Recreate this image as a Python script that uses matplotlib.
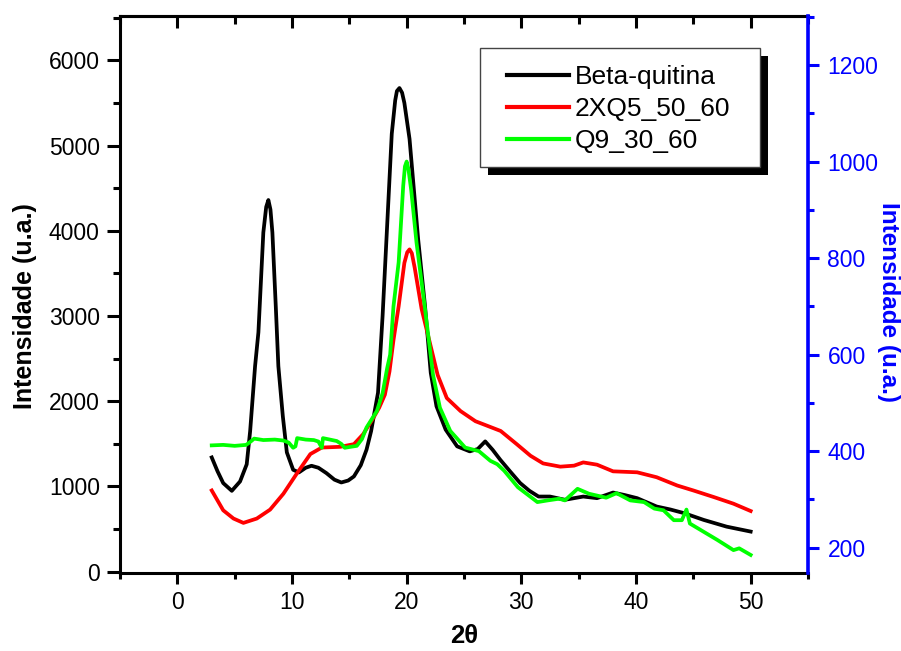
import os
import matplotlib
matplotlib.use('Agg')
import matplotlib.pyplot as plt
from matplotlib.patches import Rectangle
from matplotlib.ticker import MultipleLocator
from matplotlib import font_manager as fm

plt.rcParams['font.family'] = ['Liberation Sans', 'DejaVu Sans']

# ---- data ----
beta_x = [3.0, 3.5, 4.0, 4.75, 5.47, 6.05, 6.35, 6.78, 7.07, 7.5, 7.75, 7.94, 8.12, 8.29, 8.59, 8.81, 9.2, 9.55,
          10.1, 10.6, 11.2, 11.7, 12.3, 13.0, 13.7, 14.3, 14.9, 15.4, 16.0, 16.5, 16.9, 17.5, 17.9,
          18.2, 18.7, 19.0, 19.15, 19.37, 19.6, 19.8, 20.25, 21.0, 21.6, 22.1, 22.6, 23.4, 24.4, 25.5, 26.2,
          26.85, 27.5, 28.16, 29.0, 29.9, 30.7, 31.5, 32.5, 33.8, 35.4, 36.6, 38.0, 39.0, 40.1,
          41.8, 43.0, 44.2, 45.9, 47.9, 50.0]
beta_y = [1341, 1180, 1040, 949, 1059, 1260, 1650, 2412, 2808, 3980, 4280, 4361, 4250, 3980, 3100, 2412, 1824, 1400,
          1196, 1165, 1220, 1243, 1220, 1157, 1080, 1047, 1070, 1118, 1250, 1432, 1650, 2100, 3000,
          3800, 5137, 5530, 5640, 5675, 5620, 5500, 5078, 3903, 3118, 2334, 1941, 1667, 1471, 1412, 1440,
          1529, 1430, 1314, 1180, 1040, 950, 882, 882, 844, 882, 863, 929, 900, 863,
          765, 730, 687, 608, 529, 471]

q5_x = [3.0, 4.0, 4.9, 5.76, 6.93, 8.09, 9.25, 10.4, 11.6, 12.6, 14.2, 15.4, 16.2, 17.1, 17.6, 18.1,
        18.5, 18.85, 19.3, 19.8, 20.05, 20.25, 20.45, 20.7, 21.3, 22.0, 22.7, 23.5, 24.7, 26.0, 26.7, 28.2, 29.6,
        30.8, 31.9, 33.4, 34.6, 35.4, 36.6, 38.0, 40.1, 41.8, 43.6, 45.0, 46.8, 48.5, 50.0]
q5_y = [318.6, 277.5, 260.4, 251.4, 260.4, 278.9, 311.8, 352.9, 394, 407.5, 409, 414.5, 435, 469, 490, 517,
        565, 630, 700, 790, 812, 818, 810, 780, 695, 626.7, 558, 510, 483, 462, 455.6, 441.8, 414.5,
        390.5, 374.6, 367.9, 370, 376.7, 372, 358.2, 356.2, 346, 328.8, 318.6, 304.8, 291.2, 276]

q9_x = [3.0, 4.0, 5.0, 6.0, 6.4, 6.7, 7.5, 8.5, 9.25, 9.7, 10.1, 10.3, 10.45, 11.2, 11.9, 12.3, 12.6,
        12.7, 13.3, 13.9, 14.3, 14.6, 15.1, 15.65, 16.1, 16.5, 17.0, 17.4, 17.9, 18.3, 18.56, 18.85,
        19.3, 19.7, 19.85, 20.0, 20.15, 20.4, 20.86, 21.6, 22.3, 22.9, 23.8, 25.1, 26.3, 27.3, 27.9, 28.5, 29.7,
        31.4, 32.3, 33.3, 33.8, 34.9, 35.9, 37.4, 38.3, 39.5, 40.7, 41.6, 42.4, 43.3, 44.0, 44.4,
        44.7, 45.9, 47.1, 48.5, 49.0, 50.0]
q9_y = [412, 413, 411, 413, 420, 426, 423, 424, 422, 418, 407, 410, 427, 424, 423, 420, 407,
        427, 424, 421, 415, 407, 409, 411, 425, 449, 468, 483, 520, 572, 600, 700,
        791, 950, 990, 1000, 985, 940, 832, 695, 558, 490, 442, 407.5, 400, 380, 373, 359.6, 325.3,
        294.5, 298, 301.5, 298, 322, 311.8, 303.6, 313, 298, 294.5, 281, 277.5, 257, 257, 279,
        250, 233, 216, 195, 198.7, 185]

labels = ['Beta-quitina', '2XQ5_50_60', 'Q9_30_60']
colors = ['#000000', '#ff0000', '#00ff00']

# bold font: pick the regular-width Liberation Sans Bold file explicitly
bold_path = None
for f in fm.fontManager.ttflist:
    if os.path.basename(f.fname).lower() == 'liberationsans-bold.ttf':
        bold_path = f.fname
        break


def bold_fp(size):
    if bold_path:
        return fm.FontProperties(fname=bold_path, size=size)
    return fm.FontProperties(family='DejaVu Sans', weight='bold', size=size)


# ---- figure ----
W, H = 901, 651
fig = plt.figure(figsize=(W / 100, H / 100), dpi=100)
ax = fig.add_axes([120 / W, (H - 573) / H, 688 / W, 557 / H])
ax2 = ax.twinx()

l1, = ax.plot(beta_x, beta_y, color=colors[0], lw=2.7, label=labels[0])
l2, = ax2.plot(q5_x, q5_y, color=colors[1], lw=2.7, label=labels[1])
l3, = ax2.plot(q9_x, q9_y, color=colors[2], lw=2.7, label=labels[2])

ax.set_xlim(-5, 55)
ax.set_ylim(-15, 6520)
ax2.set_ylim(147.6, 1301.5)

ax.xaxis.set_major_locator(MultipleLocator(10))
ax.xaxis.set_minor_locator(MultipleLocator(5))
ax.yaxis.set_major_locator(MultipleLocator(1000))
ax.yaxis.set_minor_locator(MultipleLocator(500))
ax2.yaxis.set_major_locator(MultipleLocator(200))
ax2.yaxis.set_minor_locator(MultipleLocator(100))

for s in ['left', 'bottom', 'top']:
    ax.spines[s].set_linewidth(2.2)
ax.spines['right'].set_visible(False)
for s in ['left', 'bottom', 'top']:
    ax2.spines[s].set_visible(False)
ax2.spines['right'].set_linewidth(2.6)
ax2.spines['right'].set_color('#0000ff')

ax.tick_params(axis='x', which='major', direction='out', length=8, width=2.2, labelsize=16.5, pad=5)
ax.tick_params(axis='x', which='minor', direction='out', length=4, width=2.2)
ax.tick_params(axis='y', which='major', direction='out', length=9.5, width=2.2, labelsize=16.5, pad=5)
ax.tick_params(axis='y', which='minor', direction='out', length=5, width=2.2)
ax2.tick_params(axis='y', which='major', direction='out', length=8, width=2.2, labelsize=16.5, pad=6,
                colors='#0000ff')
ax2.tick_params(axis='y', which='minor', direction='out', length=4, width=2.2, colors='#0000ff')

top = ax.secondary_xaxis('top')
top.xaxis.set_major_locator(MultipleLocator(10))
top.xaxis.set_minor_locator(MultipleLocator(5))
top.tick_params(axis='x', which='major', direction='in', length=8.5, width=2.2, labeltop=False)
top.tick_params(axis='x', which='minor', direction='in', length=5.5, width=2.2)
top.spines['top'].set_linewidth(2.2)

ax.set_xlabel('2θ', fontproperties=bold_fp(18.5))
ax.xaxis.label.set_verticalalignment('center')
ax.xaxis.set_label_coords(0.5, -0.113)
ax.set_ylabel('Intensidade (u.a.)', fontproperties=bold_fp(18))
ax.yaxis.label.set_verticalalignment('center')
ax.yaxis.set_label_coords(-0.138, 0.48)
ax2.set_ylabel('Intensidade (u.a.)', fontproperties=bold_fp(17.5), color='#0000ff', rotation=270)
ax2.yaxis.label.set_verticalalignment('center')
ax2.yaxis.set_label_coords(1.117, 0.487)

# legend box with hard black shadow
shadow = Rectangle((488 / W, 1 - 175 / H), 280 / W, 119 / H, transform=fig.transFigure,
                   facecolor='black', edgecolor='black', lw=0, clip_on=False, zorder=4)
frame = Rectangle((480 / W, 1 - 167 / H), 280 / W, 119 / H, transform=fig.transFigure,
                  facecolor='white', edgecolor='#444444', lw=1.0, clip_on=False, zorder=4.5)
ax2.add_patch(shadow)
ax2.add_patch(frame)
leg = ax2.legend([l1, l2, l3], labels, loc='upper left', bbox_to_anchor=(507 / W, 1 - 65 / H),
                 bbox_transform=fig.transFigure, frameon=False, fontsize=19, handlelength=2.35,
                 handletextpad=0.23, labelspacing=0.30, borderpad=0, borderaxespad=0)
leg.set_zorder(6)
for h in leg.get_lines():
    h.set_linewidth(3)

fig.savefig('out.png', dpi=100)
